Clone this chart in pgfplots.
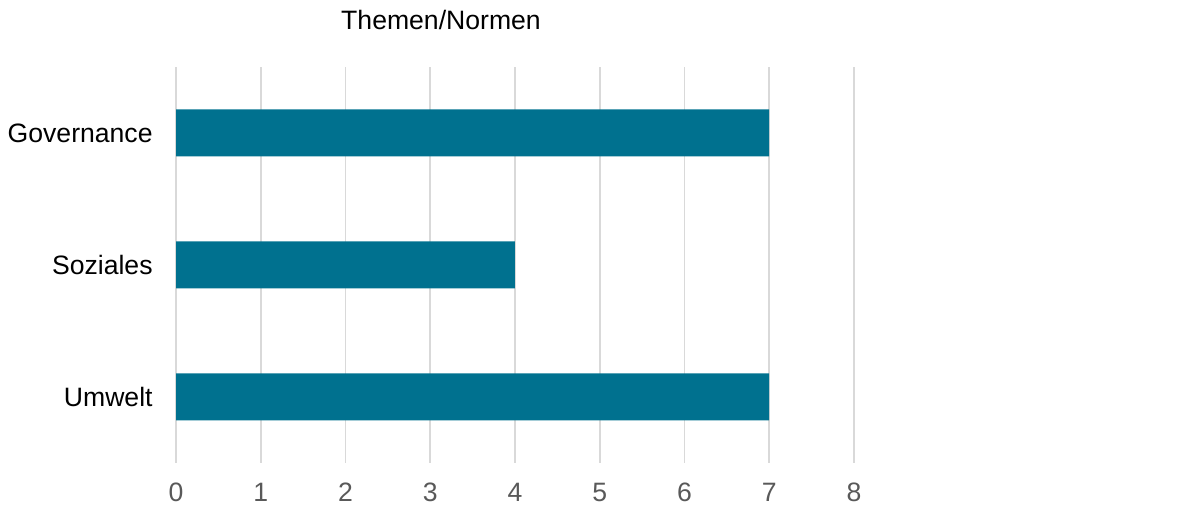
\documentclass[border=0pt]{standalone}
\usepackage{pgfplots}
\pgfplotsset{compat=1.18}
\usepackage{fontspec}
\setmainfont{Liberation Sans}
\definecolor{barcol}{HTML}{00718F}
\definecolor{gridcol}{HTML}{D9D9D9}
\definecolor{tickcol}{HTML}{595959}
\begin{document}
\begin{tikzpicture}
\path[use as bounding box] (0,0) rectangle (591pt,253pt);
\begin{axis}[
  at={(88pt,21.5pt)}, anchor=south west,
  scale only axis, width=339pt, height=198pt,
  xbar, bar width=23.5pt,
  xmin=0, xmax=8, ymin=-0.5, ymax=2.5,
  xtick={0,...,8}, ytick={0,1,2},
  yticklabels={Umwelt,Soziales,Governance},
  xmajorgrids, grid style={gridcol, line width=0.9pt},
  axis line style={draw=none},
  major tick length=0pt,
  /pgf/number format/assume math mode=true,
  xticklabel style={font=\fontsize{13.3}{15}\selectfont, text=tickcol, anchor=north, inner sep=0pt, yshift=-10pt},
  yticklabel style={font=\fontsize{13.3}{15}\selectfont, text=black, anchor=east, inner sep=0pt, xshift=-11.5pt},
]
\addplot[fill=barcol, draw=none] coordinates {(7,0) (4,1) (7,2)};
\end{axis}
\node[font=\fontsize{13.3}{15}\selectfont] at (220.5pt,243pt) {Themen/Normen};
\end{tikzpicture}
\end{document}
